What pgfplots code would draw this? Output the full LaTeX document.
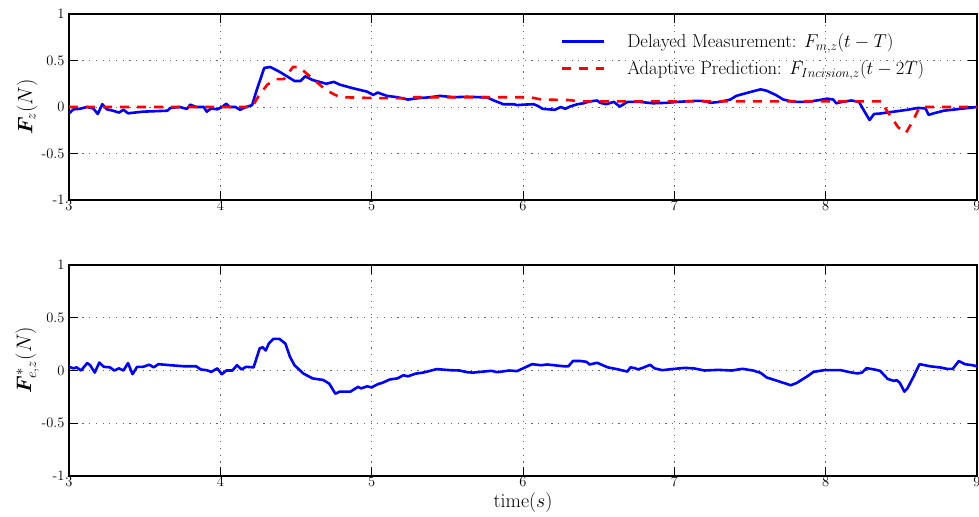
\RequirePackage{fix-cm}
\documentclass[border=0pt]{standalone}
\usepackage{bm}
\usepackage{pgfplots}
\pgfplotsset{compat=1.18}
\definecolor{mblue}{RGB}{0,0,255}
\definecolor{mred}{RGB}{255,0,0}
\pgfplotsset{
  myaxis/.style={
    scale only axis, width=908bp,
    xmin=3, xmax=9, ymin=-1, ymax=1,
    xtick={3,4,5,6,7,8,9},
    ytick={-1,-0.5,0,0.5,1},
    yticklabels={-1,-0.5,0,0.5,1},
    xticklabels={3,4,5,6,7,8,9},
    tick align=inside, major tick length=9bp,
    every tick/.style={black, line width=1bp},
    axis line style={line width=1.2bp},
    grid=major,
    major grid style={black!60, line width=0.8bp, dash pattern=on 1.2bp off 5.5bp},
    every tick label/.append style={font=\fontsize{14.5}{16}\selectfont},
    xticklabel style={yshift=1bp, inner sep=1.5bp},
    yticklabel style={xshift=-1bp},
    every axis plot/.append style={line width=2.6bp, line join=round},
  }
}
\begin{document}
\begin{tikzpicture}
\useasboundingbox (0,0) rectangle (979bp,517bp);
\begin{axis}[myaxis, at={(69bp,317bp)}, anchor=south west, height=186bp,
  ylabel={$\bm{F}_z(N)$},
  ylabel style={at={(axis description cs:-0.046,0.5)}, anchor=center, font=\fontsize{21}{24}\selectfont},
  legend style={at={(axis description cs:0.538,0.915)}, anchor=north west, draw=none, fill=none,
    font=\fontsize{18.7}{22}\selectfont, row sep=7.5bp, column sep=20bp},
  legend cell align=left,
  legend image code/.code={\draw[#1] (0bp,0bp) -- (42bp,0bp);},
]
\addplot[mblue] coordinates {
(3.00,-0.068) (3.03,-0.025) (3.07,-0.02) (3.12,0) (3.16,-0.015) (3.19,-0.075) (3.22,0.03)
(3.25,-0.025) (3.29,-0.04) (3.33,-0.06) (3.36,-0.03) (3.39,-0.068) (3.49,-0.05) (3.65,-0.04)
(3.67,-0.01) (3.73,0) (3.78,-0.02) (3.80,0.025) (3.84,0) (3.89,0) (3.91,-0.05) (3.94,-0.015)
(3.98,-0.025) (4.01,0) (4.04,0.035) (4.06,0) (4.10,0) (4.13,-0.03) (4.17,0) (4.21,0.02)
(4.24,0.18) (4.29,0.42) (4.33,0.43) (4.39,0.38) (4.45,0.32) (4.49,0.28) (4.53,0.28) (4.56,0.33)
(4.61,0.29) (4.70,0.25) (4.75,0.27) (4.79,0.24) (4.88,0.20) (4.97,0.165) (5.01,0.13) (5.04,0.155)
(5.10,0.12) (5.17,0.105) (5.24,0.08) (5.31,0.095) (5.39,0.105) (5.45,0.12) (5.54,0.105)
(5.63,0.11) (5.72,0.105) (5.76,0.105) (5.80,0.075) (5.87,0.03) (5.94,0.03) (5.96,0.02)
(6.00,0.025) (6.07,0.03) (6.10,0.01) (6.13,-0.02) (6.21,-0.03) (6.25,0) (6.28,-0.02)
(6.31,0.005) (6.36,0.03) (6.40,0.04) (6.44,0.06) (6.49,0.07) (6.51,0.045) (6.55,0.03)
(6.60,0.055) (6.64,0.005) (6.69,0.055) (6.77,0.055) (6.86,0.04) (6.95,0.045) (7.02,0.055)
(7.13,0.065) (7.19,0.065) (7.24,0.045) (7.30,0.055) (7.37,0.08) (7.41,0.12) (7.50,0.16)
(7.57,0.19) (7.61,0.175) (7.67,0.13) (7.72,0.08) (7.79,0.055) (7.88,0.055) (7.96,0.075)
(8.01,0.09) (8.05,0.08) (8.07,0.04) (8.11,0.055) (8.17,0.07) (8.22,0.055) (8.25,-0.03)
(8.29,-0.14) (8.32,-0.075) (8.36,-0.07) (8.45,-0.05) (8.54,-0.03) (8.61,-0.01) (8.66,-0.015)
(8.68,-0.085) (8.71,-0.07) (8.78,-0.04) (8.89,-0.02) (9.00,0)
};
\addlegendentry{Delayed Measurement: $F_{m,z}(t-T)$}
\addplot[mred, dash pattern=on 9bp off 8bp] coordinates {
(3,0) (4.21,0) (4.25,0.11) (4.31,0.24) (4.37,0.30) (4.42,0.30) (4.48,0.43) (4.52,0.43)
(4.57,0.36) (4.70,0.18) (4.79,0.105) (5.06,0.095) (5.23,0.095) (5.25,0.105) (6.05,0.105)
(6.12,0.08) (6.30,0.075) (6.38,0.06) (8.37,0.06) (8.40,-0.03) (8.48,-0.22) (8.53,-0.28)
(8.58,-0.14) (8.62,0) (9,0)
};
\addlegendentry{Adaptive Prediction: $F_{Incision,z}(t-2T)$}
\end{axis}
\begin{axis}[myaxis, at={(69bp,41bp)}, anchor=south west, height=211bp,
  ylabel={$\bm{F}^{*}_{e,z}(N)$},
  ylabel style={at={(axis description cs:-0.046,0.55)}, anchor=center, font=\fontsize{21}{24}\selectfont},
  xlabel={time$(s)$},
  xlabel style={at={(axis description cs:0.5,-0.128)}, anchor=center, inner sep=0.5bp, font=\fontsize{20}{22}\selectfont},
]
\addplot[mblue] coordinates {
(3.00,0.035) (3.03,0.02) (3.05,0.03) (3.08,0) (3.12,0.07) (3.14,0.05) (3.17,-0.02) (3.20,0.075)
(3.23,0.035) (3.27,0.03) (3.30,0) (3.33,0.02) (3.36,0) (3.39,0.07) (3.42,-0.035) (3.45,0.035)
(3.49,0.035) (3.53,0.055) (3.56,0.03) (3.59,0.06) (3.67,0.05) (3.76,0.04) (3.84,0.04)
(3.87,0.01) (3.91,0.003) (3.94,-0.013) (3.98,0.02) (4.01,-0.035) (4.04,0) (4.08,0) (4.11,0.05)
(4.14,0.01) (4.17,0.035) (4.22,0.03) (4.26,0.21) (4.28,0.22) (4.30,0.19) (4.32,0.255)
(4.35,0.30) (4.39,0.30) (4.43,0.255) (4.46,0.13) (4.49,0.05) (4.55,-0.03) (4.61,-0.075)
(4.68,-0.09) (4.72,-0.125) (4.76,-0.22) (4.79,-0.20) (4.86,-0.20) (4.91,-0.155) (4.93,-0.17)
(4.97,-0.15) (5.00,-0.16) (5.04,-0.13) (5.07,-0.117) (5.12,-0.085) (5.17,-0.075) (5.21,-0.045)
(5.24,-0.055) (5.29,-0.03) (5.34,-0.02) (5.43,0.013) (5.52,0.003) (5.58,0) (5.63,-0.016)
(5.67,-0.02) (5.79,-0.003) (5.83,-0.016) (5.91,0) (5.96,-0.006) (6.00,0.02) (6.06,0.06)
(6.12,0.05) (6.16,0.057) (6.27,0.04) (6.30,0.04) (6.33,0.09) (6.38,0.09) (6.42,0.082)
(6.44,0.057) (6.49,0.073) (6.56,0.03) (6.62,0.013) (6.69,-0.01) (6.71,0.03) (6.74,0.022)
(6.76,0.01) (6.80,0.03) (6.84,0.054) (6.87,0.02) (6.92,0.003) (6.99,0.014) (7.07,0.025)
(7.13,0.02) (7.20,0) (7.29,0.006) (7.38,0) (7.45,0.016) (7.52,0) (7.57,-0.022) (7.61,-0.066)
(7.68,-0.098) (7.77,-0.14) (7.81,-0.117) (7.88,-0.054) (7.92,-0.013) (7.99,0.003) (8.10,0.003)
(8.16,-0.016) (8.21,-0.028) (8.24,-0.02) (8.27,0.022) (8.32,0.01) (8.36,-0.003) (8.41,-0.08)
(8.45,-0.098) (8.47,-0.092) (8.49,-0.117) (8.52,-0.2) (8.54,-0.17) (8.58,-0.06) (8.62,0.06)
(8.69,0.04) (8.76,0.028) (8.80,0.016) (8.84,0.016) (8.88,0.09) (8.92,0.06) (8.97,0.05) (9.00,0.04)
};
\end{axis}
\end{tikzpicture}
\end{document}
